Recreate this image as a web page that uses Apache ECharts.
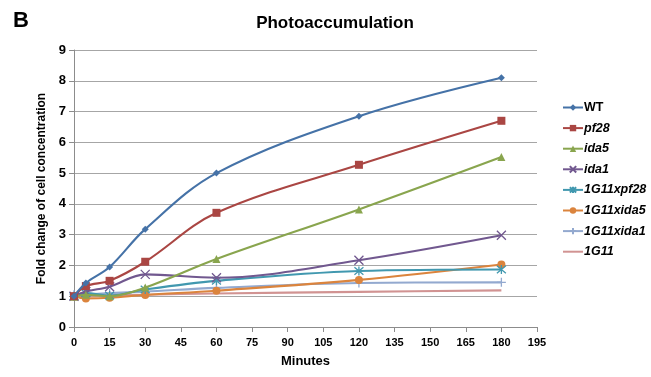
<!DOCTYPE html>
<html><head><meta charset="utf-8">
<script src="https://cdn.jsdelivr.net/npm/echarts@6/dist/echarts.min.js"></script>
<style>html,body{margin:0;padding:0;background:#fff}#c{width:651px;height:377px}</style>
</head><body><div id="c"></div>
<script>
const minutes = [0, 5, 15, 30, 60, 120, 180];
const seriesNames = ['WT','pf28','ida5','ida1','1G11xpf28','1G11xida5','1G11xida1','1G11'];
const WT        = [1.0, 1.43, 1.95, 3.18, 5.0, 6.85, 8.1];
const pf28      = [1.0, 1.33, 1.5, 2.12, 3.71, 5.27, 6.7];
const ida5      = [0.98, 1.05, 1.0, 1.28, 2.21, 3.82, 5.52];
const ida1      = [1.0, 1.15, 1.31, 1.71, 1.6, 2.17, 2.98];
const x1G11xpf28 = [1.0, 1.1, 1.02, 1.22, 1.5, 1.82, 1.87];
const x1G11xida5 = [1.0, 0.93, 0.95, 1.04, 1.18, 1.53, 2.03];
const x1G11xida1 = [1.05, 1.06, 1.1, 1.15, 1.27, 1.43, 1.45];
const x1G11      = [1.0, 1.02, 1.03, 1.05, 1.09, 1.14, 1.19];
const xTicks = [0,15,30,45,60,75,90,105,120,135,150,165,180,195];
const yTicks = [0,1,2,3,4,5,6,7,8,9];

const values = [WT,pf28,ida5,ida1,x1G11xpf28,x1G11xida5,x1G11xida1,x1G11];
const colors = ['#4572A7','#AA4643','#89A54E','#71588F','#4198AF','#DB843D','#93A9CF','#D19392'];
const symbols = ['diamond','rect','triangle',
  'path://M0,0L10,10M10,0L0,10',
  'path://M0,0L10,10M10,0L0,10M5,-1L5,11',
  'circle',
  'path://M5,0L5,10M0,5L10,5',
  'none'];
const sizes = [7,8,8,9,9,8,9,0];
const stroked = [false,false,false,true,true,false,true,false];

const chart = echarts.init(document.getElementById('c'));
const series = seriesNames.map((n,i)=>({
  name:n, type:'line', smooth:0.35,
  data: minutes.map((m,j)=>[m, values[i][j]]),
  symbol: symbols[i], symbolSize: sizes[i], showSymbol: symbols[i] !== 'none',
  lineStyle:{color:colors[i], width:2.1},
  itemStyle: stroked[i] ? {color:colors[i], borderColor:colors[i], borderWidth:1.3}
                        : {color:colors[i], borderWidth:0},
  z: 10 - i
}));

chart.setOption({
  animation:false,
  backgroundColor:'#fff',
  title:[
    {text:'Photoaccumulation', left:330, top:10, textAlign:'center',
     textStyle:{fontFamily:'Liberation Sans', fontWeight:'bold', fontSize:17, color:'#000'}},
    {text:'B', left:8, top:5,
     textStyle:{fontFamily:'Liberation Sans', fontWeight:'bold', fontSize:22, color:'#000'}}
  ],
  legend:{
    orient:'vertical', left:562, top:101, padding:0, itemWidth:20, itemHeight:8, itemGap:7.6,
    data: seriesNames.map((n,i)=>{
      const d = {name:n, textStyle:{fontStyle: i===0?'normal':'italic'}};
      if (i === 7) { d.itemStyle = {opacity:0}; }
      return d;
    }),
    textStyle:{fontFamily:'Liberation Sans', fontWeight:'bold', fontSize:12.5, color:'#000', padding:[0,0,0,-4]}
  },
  grid:{left:74, right:114, top:50, bottom:50, containLabel:false},
  xAxis:{
    type:'value', min:0, max:195, interval:15,
    name:'Minutes', nameLocation:'middle', nameGap:28,
    nameTextStyle:{fontFamily:'Liberation Sans', fontWeight:'bold', fontSize:13, color:'#000'},
    axisLine:{show:true, lineStyle:{color:'#8c8c8c'}},
    axisTick:{show:true, length:5, lineStyle:{color:'#8c8c8c'}},
    axisLabel:{fontFamily:'Liberation Sans', fontWeight:'bold', fontSize:11, color:'#000', margin:10,
      formatter:v=> xTicks.includes(v)? String(v):''},
    splitLine:{show:false}
  },
  yAxis:{
    type:'value', min:0, max:9, interval:1,
    name:'Fold change of cell concentration', nameLocation:'middle', nameGap:25, nameRotate:90,
    nameTextStyle:{fontFamily:'Liberation Sans', fontWeight:'bold', fontSize:12, color:'#000'},
    axisLine:{show:true, lineStyle:{color:'#8c8c8c'}},
    axisTick:{show:true, length:5, lineStyle:{color:'#8c8c8c'}},
    axisLabel:{fontFamily:'Liberation Sans', fontWeight:'bold', fontSize:13, color:'#000', margin:8,
      formatter:v=> yTicks.includes(v)? String(v):''},
    splitLine:{show:true, lineStyle:{color:'#a6a6a6', width:1}}
  },
  series: series
});
</script></body></html>
